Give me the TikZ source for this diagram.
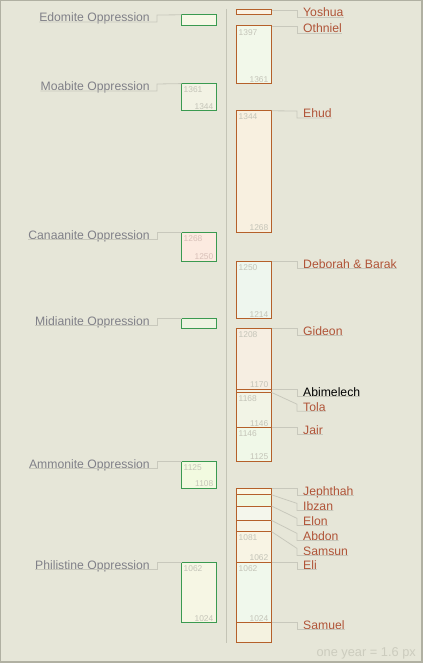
\documentclass[tikz,border=0pt]{standalone}
\usepackage{fontspec}
\setmainfont{Liberation Sans}
\usetikzlibrary{calc}

\begin{document}
\begin{tikzpicture}[x=1pt,y=1pt,yscale=-1,xscale=1,
  judge/.style={draw={rgb, 255:red, 181; green, 96; blue, 42 }, line width=1, anchor=north west, minimum width=35, inner sep=0, outer sep=0},
  oppr/.style={draw={rgb, 255:red, 58; green, 154; blue, 80 }, line width=1, anchor=north west, minimum width=35, inner sep=0, outer sep=0},
  jname/.style={text={rgb, 255:red, 176; green, 84; blue, 56 }, font=\fontsize{12.2}{14}\selectfont, anchor=base west, inner sep=0},
  oname/.style={text={rgb, 255:red, 128; green, 128; blue, 136 }, font=\fontsize{12.2}{14}\selectfont, anchor=base east, inner sep=0},
  yrtop/.style={text={rgb, 255:red, 196; green, 196; blue, 184 }, font=\fontsize{8.4}{9}\selectfont, anchor=north west, inner sep=0, xshift=2, yshift=-3},
  yrbot/.style={text={rgb, 255:red, 196; green, 196; blue, 184 }, font=\fontsize{8.4}{9}\selectfont, anchor=base east, inner sep=0, xshift=-3, yshift=1.5},
  leader/.style={draw={rgb, 255:red, 200; green, 200; blue, 188 }, line width=0.8}
]
\useasboundingbox (0,0) rectangle (423,663);

%Shape: Background
\draw [draw={rgb, 255:red, 176; green, 176; blue, 162 }, fill={rgb, 255:red, 230; green, 230; blue, 216 }, line width=1.2] (0.5,0.5) rectangle (422,662);
%Shape: Axis
\draw [draw={rgb, 255:red, 196; green, 196; blue, 182 }, line width=1] (226.7,9) -- (226.7,643);

%Judges
\node [judge, fill={rgb, 255:red, 250; green, 242; blue, 228 }, minimum height=4.8] (yoshua) at (236.5,10) {};
\node [judge, fill={rgb, 255:red, 242; green, 248; blue, 234 }, minimum height=57.6] (othniel) at (236.5,26) {};
\node [judge, fill={rgb, 255:red, 248; green, 240; blue, 224 }, minimum height=121.6] (ehud) at (236.5,110.8) {};
\node [judge, fill={rgb, 255:red, 238; green, 246; blue, 238 }, minimum height=57.6] (deborah) at (236.5,261.2) {};
\node [judge, fill={rgb, 255:red, 246; green, 238; blue, 226 }, minimum height=60.8] (gideon) at (236.5,328.4) {};
\node [judge, fill={rgb, 255:red, 242; green, 242; blue, 230 }, minimum height=3.2] (abimelech) at (236.5,389.2) {};
\node [judge, fill={rgb, 255:red, 242; green, 244; blue, 230 }, minimum height=35.2] (tola) at (236.5,392.4) {};
\node [judge, fill={rgb, 255:red, 240; green, 248; blue, 232 }, minimum height=33.6] (jair) at (236.5,427.6) {};
\node [judge, fill={rgb, 255:red, 250; green, 248; blue, 228 }, minimum height=6.4] (jephthah) at (236.5,488.4) {};
\node [judge, fill={rgb, 255:red, 240; green, 248; blue, 224 }, minimum height=11.2] (ibzan) at (236.5,494.8) {};
\node [judge, fill={rgb, 255:red, 244; green, 246; blue, 236 }, minimum height=14.4] (elon) at (236.5,506) {};
\node [judge, fill={rgb, 255:red, 246; green, 244; blue, 230 }, minimum height=11.2] (abdon) at (236.5,520.4) {};
\node [judge, fill={rgb, 255:red, 248; green, 244; blue, 228 }, minimum height=30.4] (samsun) at (236.5,531.6) {};
\node [judge, fill={rgb, 255:red, 240; green, 248; blue, 236 }, minimum height=60.8] (eli) at (236.5,562) {};
\node [judge, fill={rgb, 255:red, 244; green, 242; blue, 224 }, minimum height=19.2] (samuel) at (236.5,622.8) {};

%Oppressions
\node [oppr, fill={rgb, 255:red, 246; green, 248; blue, 230 }, minimum height=11.2] (edom) at (181.5,14.8) {};
\node [oppr, fill={rgb, 255:red, 242; green, 242; blue, 228 }, minimum height=27.2] (moab) at (181.5,83.6) {};
\node [oppr, fill={rgb, 255:red, 252; green, 234; blue, 224 }, minimum height=28.8] (canaan) at (181.5,232.4) {};
\node [oppr, fill={rgb, 255:red, 238; green, 244; blue, 226 }, minimum height=9.6] (midian) at (181.5,318.8) {};
\node [oppr, fill={rgb, 255:red, 242; green, 250; blue, 224 }, minimum height=27.2] (ammon) at (181.5,461.2) {};
\node [oppr, fill={rgb, 255:red, 246; green, 246; blue, 228 }, minimum height=60.8] (philistia) at (181.5,562) {};

%Years
\node [yrtop] at (othniel.north west) {1397};
\node [yrbot] at (othniel.south east) {1361};
\node [yrtop] at (ehud.north west) {1344};
\node [yrbot] at (ehud.south east) {1268};
\node [yrtop] at (deborah.north west) {1250};
\node [yrbot] at (deborah.south east) {1214};
\node [yrtop] at (gideon.north west) {1208};
\node [yrbot] at (gideon.south east) {1170};
\node [yrtop] at (tola.north west) {1168};
\node [yrbot] at (tola.south east) {1146};
\node [yrtop] at (jair.north west) {1146};
\node [yrbot] at (jair.south east) {1125};
\node [yrtop] at (samsun.north west) {1081};
\node [yrbot] at (samsun.south east) {1062};
\node [yrtop] at (eli.north west) {1062};
\node [yrbot] at (eli.south east) {1024};
\node [yrtop] at (moab.north west) {1361};
\node [yrbot] at (moab.south east) {1344};
\node [yrtop, text={rgb, 255:red, 216; green, 192; blue, 184 }] at (canaan.north west) {1268};
\node [yrbot, text={rgb, 255:red, 216; green, 192; blue, 184 }] at (canaan.south east) {1250};
\node [yrtop] at (ammon.north west) {1125};
\node [yrbot] at (ammon.south east) {1108};
\node [yrtop] at (philistia.north west) {1062};
\node [yrbot] at (philistia.south east) {1024};

%Judge names
\node [jname] (yoshuaT) at (303,17) {Yoshua};
\node [jname] (othnielT) at (303,33) {Othniel};
\node [jname] (ehudT) at (303,118) {Ehud};
\node [jname] (deborahT) at (303,268.2) {Deborah \& Barak};
\node [jname] (gideonT) at (303,335.4) {Gideon};
\node [jname, text=black] (abimelechT) at (303,396.2) {Abimelech};
\node [jname] (tolaT) at (303,411.2) {Tola};
\node [jname] (jairT) at (303,434.6) {Jair};
\node [jname] (jephthahT) at (303,495.4) {Jephthah};
\node [jname] (ibzanT) at (303,510.4) {Ibzan};
\node [jname] (elonT) at (303,525.4) {Elon};
\node [jname] (abdonT) at (303,540.4) {Abdon};
\node [jname] (samsunT) at (303,555.4) {Samsun};
\node [jname] (eliT) at (303,569) {Eli};
\node [jname] (samuelT) at (303,629.8) {Samuel};

%Oppression names
\node [oname] (edomT) at (150,22) {Edomite Oppression};
\node [oname] (moabT) at (150,91) {Moabite Oppression};
\node [oname] (canaanT) at (150,239.4) {Canaanite Oppression};
\node [oname] (midianT) at (150,325.8) {Midianite Oppression};
\node [oname] (ammonT) at (150,468.2) {Ammonite Oppression};
\node [oname] (philistiaT) at (150,569) {Philistine Oppression};

%Leaders
\foreach \j in {yoshua,othniel,ehud,deborah,gideon,abimelech,tola,jair,jephthah,ibzan,elon,abdon,samsun,eli,samuel}
  \draw [leader] (\j.north east) -- ($(\j T.base west)+(-6,-7)$) |- (\j T.base east);
\foreach \o in {edom,moab,canaan,midian,ammon,philistia}
  \draw [leader] (\o.north west) -- ($(\o T.base east)+(7,-7)$) |- (\o T.base west);

%Text
\node [anchor=base east, inner sep=0, text={rgb, 255:red, 204; green, 204; blue, 190 }, font=\fontsize{12.8}{14}\selectfont] (scale) at (416,656.5) {one year = 1.6 px};

\end{tikzpicture}
\end{document}
